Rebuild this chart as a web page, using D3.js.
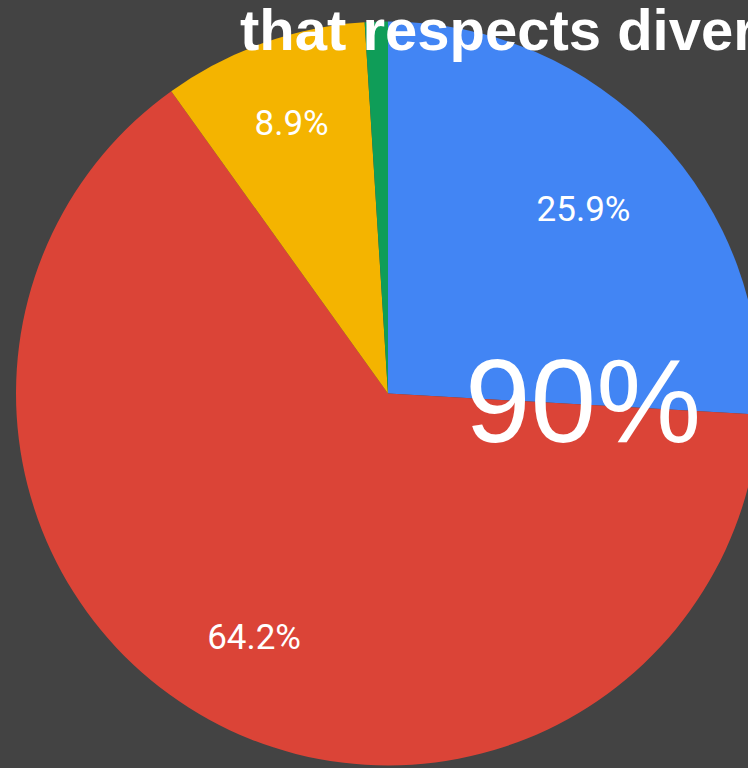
<!DOCTYPE html>
<html lang="en">
<head>
  <meta charset="UTF-8">
  <title>Pie chart</title>
  <script src="https://d3js.org/d3.v7.min.js"></script>
  <style>
    html, body { margin: 0; padding: 0; background: #434343; overflow: hidden; }
  </style>
</head>
<body>
  <svg width="748" height="768"></svg>

  <script>
    // Input data
    const categories = ["A", "B", "C", "D"];
    const values = [25.9, 64.2, 8.9, 1.0];
    const labels = ["25.9%", "64.2%", "8.9%", ""];
    const colors = ["#4285f4", "#db4437", "#f4b400", "#0f9d58"];
    const labelRadius = [269, 278, 287, 0];
    const titleText = "that respects diversity";
    const bigText = "90%";

    const width = 748, height = 768;
    const cx = 388, cy = 393.5, radius = 372;

    const svg = d3.select("svg")
      .attr("width", width)
      .attr("height", height);

    svg.append("rect")
      .attr("width", width)
      .attr("height", height)
      .attr("fill", "#434343");

    const g = svg.append("g")
      .attr("transform", `translate(${cx},${cy})`);

    const pie = d3.pie().sort(null).value(d => d.value);
    const arcs = pie(categories.map((c, i) => ({ name: c, value: values[i], i: i })));

    const arc = d3.arc().innerRadius(0).outerRadius(radius);

    // Slices
    g.selectAll(".slice")
      .data(arcs)
      .enter().append("path")
      .attr("class", "slice")
      .attr("d", arc)
      .style("fill", d => colors[d.data.i]);

    // Slice labels
    g.selectAll(".label")
      .data(arcs.filter(d => labels[d.data.i] !== ""))
      .enter().append("text")
      .attr("class", "label")
      .attr("transform", d => {
        const r = labelRadius[d.data.i];
        const c = d3.arc().innerRadius(r).outerRadius(r).centroid(d);
        return `translate(${c[0]},${c[1]})`;
      })
      .attr("text-anchor", "middle")
      .attr("dy", "0.35em")
      .style("font-family", "Roboto, sans-serif")
      .style("font-size", "35px")
      .style("fill", "#ffffff")
      .text(d => labels[d.data.i]);

    // Big overlay number
    svg.append("text")
      .attr("x", 583)
      .attr("y", 442)
      .attr("text-anchor", "middle")
      .style("font-family", "'Liberation Sans', Arial, sans-serif")
      .style("font-size", "118px")
      .style("fill", "#ffffff")
      .text(bigText);

    // Title (runs off the right edge, as in the source)
    svg.append("text")
      .attr("x", 240)
      .attr("y", 50)
      .style("font-family", "'Liberation Sans', Arial, sans-serif")
      .style("font-weight", "bold")
      .style("font-size", "58px")
      .style("fill", "#ffffff")
      .text(titleText);
  </script>
</body>
</html>
